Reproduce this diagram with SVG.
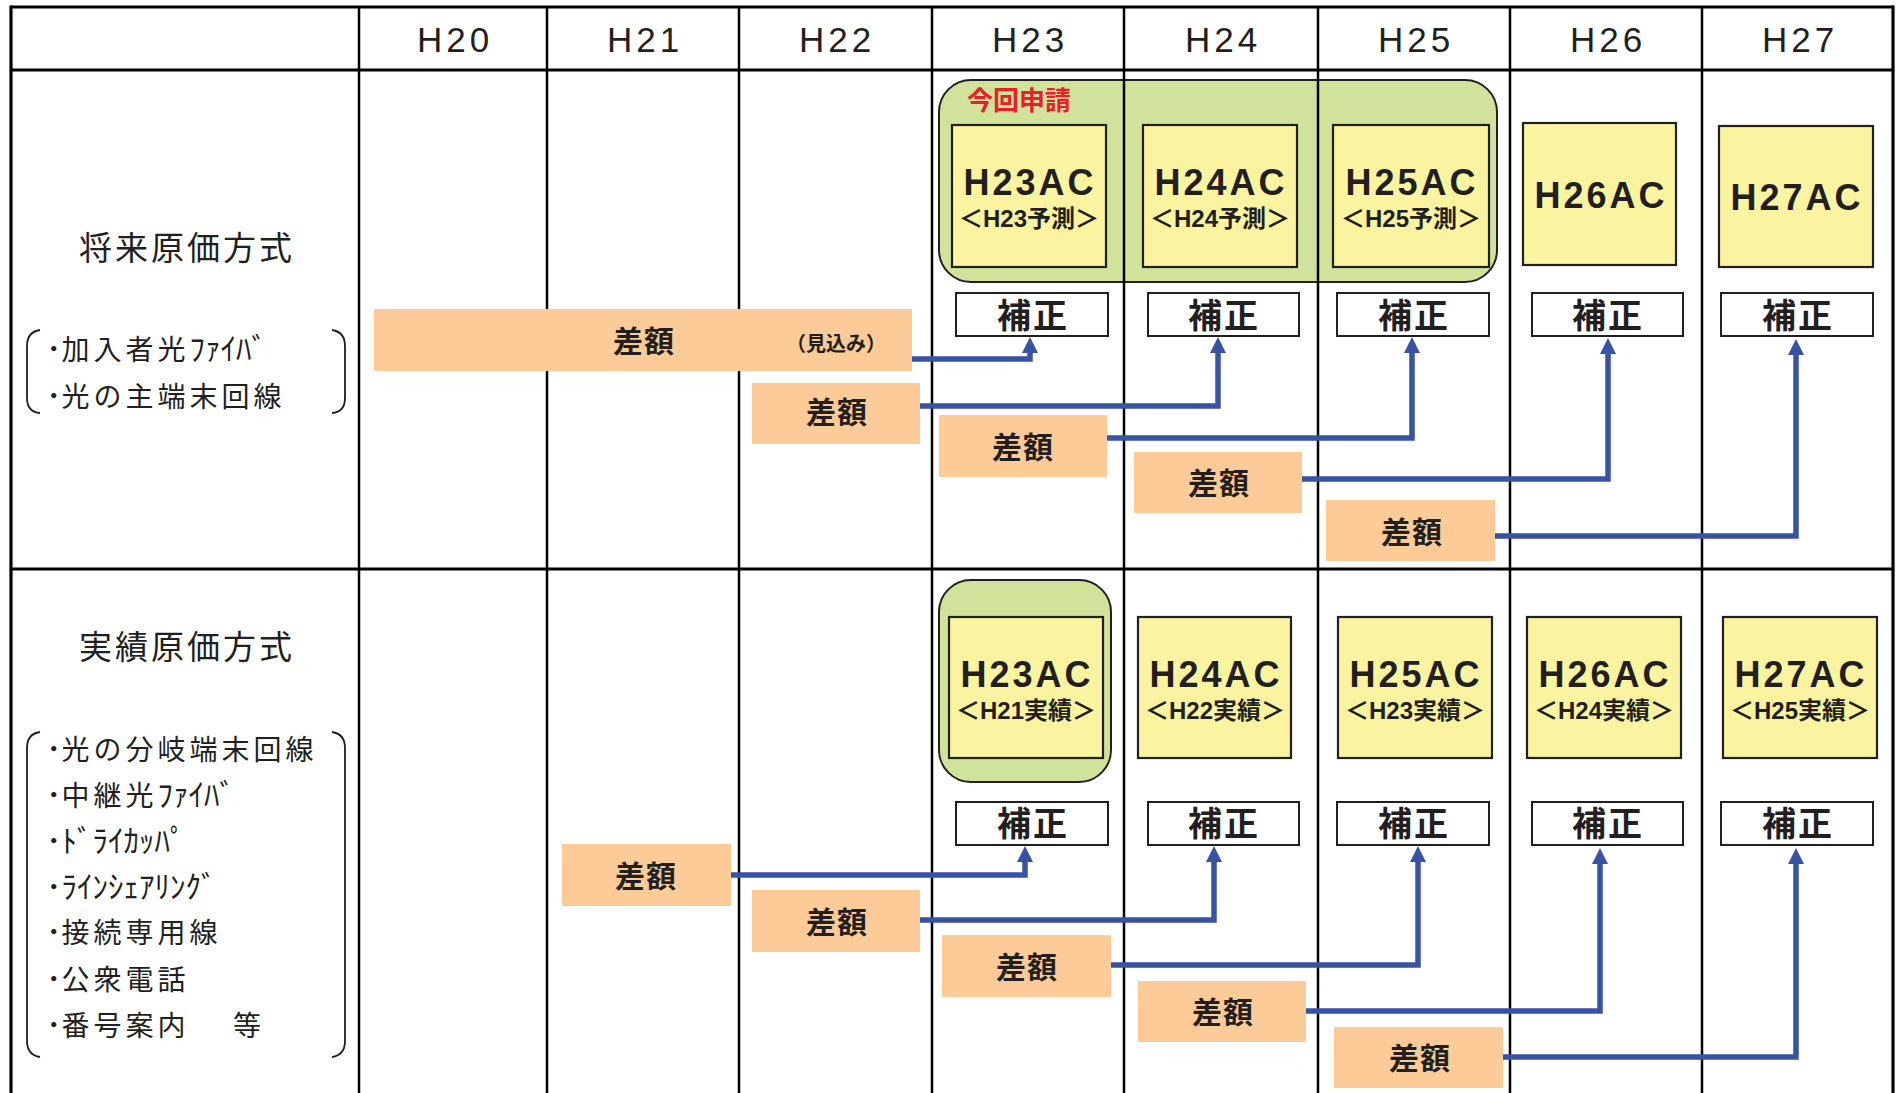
<svg xmlns="http://www.w3.org/2000/svg" width="1897" height="1093" viewBox="0 0 1897 1093">
<defs>
<style>
.grid{stroke:#000;stroke-width:2.5;fill:none}
.thick{stroke:#000;stroke-width:3.2;fill:none}
.hdr{font-family:"Liberation Sans",Arial,sans-serif;font-size:35px;letter-spacing:4px;fill:#231f20;text-anchor:middle}
.lbl{font-family:"Noto Sans CJK JP",sans-serif;font-size:33px;letter-spacing:3px;fill:#231f20;text-anchor:middle}
.item{font-family:"Noto Sans CJK JP",sans-serif;font-size:28px;letter-spacing:4px;fill:#231f20}
.hk{letter-spacing:0;font-size:31px}
.brk{stroke:#231f20;stroke-width:1.8;fill:none}
.grp{fill:#d1e29b;stroke:#231f20;stroke-width:2}
.ac{fill:#faf3a0;stroke:#231f20;stroke-width:2.2}
.act{font-family:"Liberation Sans",Arial,sans-serif;font-weight:bold;font-size:36px;letter-spacing:3px;fill:#231f20;text-anchor:middle}
.sub{font-family:"Liberation Sans","Noto Sans CJK JP",sans-serif;font-weight:bold;font-size:24px;fill:#231f20;text-anchor:middle}
.hos{fill:#fff;stroke:#231f20;stroke-width:2}
.host{font-family:"Noto Sans CJK JP",sans-serif;font-weight:bold;font-size:34px;letter-spacing:2px;fill:#231f20;text-anchor:middle}
.sa{fill:#fdcb97}
.sat{font-family:"Noto Sans CJK JP",sans-serif;font-weight:bold;font-size:30px;letter-spacing:1px;fill:#231f20;text-anchor:middle}
.red{font-family:"Noto Sans CJK JP",sans-serif;font-weight:bold;font-size:26px;fill:#e8202a}
.conn{stroke:#3953a4;stroke-width:5.5;fill:none;stroke-linejoin:miter}
</style>
<marker id="ah" viewBox="0 0 16 16" refX="2" refY="8" markerWidth="16" markerHeight="16" markerUnits="userSpaceOnUse" orient="auto">
<path d="M0,0 L16,8 L0,16 Z" fill="#3953a4"/>
</marker>
</defs>
<rect x="0" y="0" width="1897" height="1093" fill="#fff"/>

<!-- group highlight backgrounds -->
<g id="group-konkai">
<rect class="grp" x="939" y="80" width="558" height="202" rx="32" ry="32"/>
<text class="red" x="967" y="110">今回申請</text>
</g>
<g id="group-h23-actual">
<rect class="grp" x="939" y="580" width="172" height="202" rx="32" ry="32"/>
</g>

<!-- grid -->
<g id="grid">
<line class="thick" x1="11" y1="7" x2="1894" y2="7"/>
<line class="thick" x1="11" y1="5.5" x2="11" y2="1093"/>
<line class="thick" x1="1893" y1="5.5" x2="1893" y2="1093"/>
<line class="thick" x1="11" y1="70" x2="1894" y2="70"/>
<line class="thick" x1="11" y1="569" x2="1894" y2="569"/>
<line class="grid" x1="359" y1="7" x2="359" y2="1093"/>
<line class="grid" x1="547" y1="7" x2="547" y2="1093"/>
<line class="grid" x1="739" y1="7" x2="739" y2="1093"/>
<line class="grid" x1="932" y1="7" x2="932" y2="1093"/>
<line class="grid" x1="1124" y1="7" x2="1124" y2="1093"/>
<line class="grid" x1="1318" y1="7" x2="1318" y2="1093"/>
<line class="grid" x1="1510" y1="7" x2="1510" y2="1093"/>
<line class="grid" x1="1702" y1="7" x2="1702" y2="1093"/>
</g>

<g id="header">
<text class="hdr" x="455" y="52">H20</text>
<text class="hdr" x="645" y="52">H21</text>
<text class="hdr" x="837" y="52">H22</text>
<text class="hdr" x="1030" y="52">H23</text>
<text class="hdr" x="1223" y="52">H24</text>
<text class="hdr" x="1416" y="52">H25</text>
<text class="hdr" x="1608" y="52">H26</text>
<text class="hdr" x="1800" y="52">H27</text>
</g>

<g id="label-future">
<text class="lbl" x="187" y="260">将来原価方式</text>
<path class="brk" d="M40,330 Q27,332 27,346 L27,398 Q27,412 40,413"/>
<path class="brk" d="M332,330 Q345,332 345,346 L345,398 Q345,412 332,413"/>
<text class="item" x="46" y="360"><tspan class="hk">･</tspan>加入者光<tspan class="hk">ﾌｧｲﾊﾞ</tspan></text>
<text class="item" x="46" y="407"><tspan class="hk">･</tspan>光の主端末回線</text>
</g>

<g id="label-actual">
<text class="lbl" x="187" y="659">実績原価方式</text>
<path class="brk" d="M40,732 Q27,734 27,748 L27,1041 Q27,1055 40,1057"/>
<path class="brk" d="M332,732 Q345,734 345,748 L345,1041 Q345,1055 332,1057"/>
<text class="item" x="46" y="760"><tspan class="hk">･</tspan>光の分岐端末回線</text>
<text class="item" x="46" y="806"><tspan class="hk">･</tspan>中継光<tspan class="hk">ﾌｧｲﾊﾞ</tspan></text>
<text class="item" x="46" y="852"><tspan class="hk">･ﾄﾞﾗｲｶｯﾊﾟ</tspan></text>
<text class="item" x="46" y="898"><tspan class="hk">･ﾗｲﾝｼｪｱﾘﾝｸﾞ</tspan></text>
<text class="item" x="46" y="943"><tspan class="hk">･</tspan>接続専用線</text>
<text class="item" x="46" y="990"><tspan class="hk">･</tspan>公衆電話</text>
<text class="item" x="46" y="1036"><tspan class="hk">･</tspan>番号案内<tspan x="233">等</tspan></text>
</g>

<!-- future cost AC boxes -->
<g id="f-h23ac"><rect class="ac" x="952" y="125" width="154" height="142"/><text class="act" x="1030" y="195">H23AC</text><text class="sub" x="1029" y="227">＜H23予測＞</text></g>
<g id="f-h24ac"><rect class="ac" x="1143" y="125" width="154" height="142"/><text class="act" x="1221" y="195">H24AC</text><text class="sub" x="1220" y="227">＜H24予測＞</text></g>
<g id="f-h25ac"><rect class="ac" x="1333" y="125" width="156" height="142"/><text class="act" x="1412" y="195">H25AC</text><text class="sub" x="1411" y="227">＜H25予測＞</text></g>
<g id="f-h26ac"><rect class="ac" x="1523" y="123" width="153" height="142"/><text class="act" x="1601" y="208">H26AC</text></g>
<g id="f-h27ac"><rect class="ac" x="1719" y="126" width="154" height="141"/><text class="act" x="1797" y="210">H27AC</text></g>

<!-- actual cost AC boxes -->
<g id="a-h23ac"><rect class="ac" x="949" y="617" width="154" height="141"/><text class="act" x="1027" y="687">H23AC</text><text class="sub" x="1026" y="719">＜H21実績＞</text></g>
<g id="a-h24ac"><rect class="ac" x="1138" y="617" width="153" height="141"/><text class="act" x="1216" y="687">H24AC</text><text class="sub" x="1215" y="719">＜H22実績＞</text></g>
<g id="a-h25ac"><rect class="ac" x="1338" y="617" width="154" height="141"/><text class="act" x="1416" y="687">H25AC</text><text class="sub" x="1415" y="719">＜H23実績＞</text></g>
<g id="a-h26ac"><rect class="ac" x="1527" y="617" width="154" height="141"/><text class="act" x="1605" y="687">H26AC</text><text class="sub" x="1604" y="719">＜H24実績＞</text></g>
<g id="a-h27ac"><rect class="ac" x="1723" y="617" width="154" height="141"/><text class="act" x="1801" y="687">H27AC</text><text class="sub" x="1800" y="719">＜H25実績＞</text></g>

<!-- correction boxes -->
<g id="f-hosei-h23"><rect class="hos" x="956" y="293" width="152" height="43"/><text class="host" x="1033" y="328">補正</text></g>
<g id="f-hosei-h24"><rect class="hos" x="1148" y="293" width="151" height="43"/><text class="host" x="1224" y="328">補正</text></g>
<g id="f-hosei-h25"><rect class="hos" x="1337" y="293" width="152" height="43"/><text class="host" x="1414" y="328">補正</text></g>
<g id="f-hosei-h26"><rect class="hos" x="1532" y="293" width="151" height="43"/><text class="host" x="1608" y="328">補正</text></g>
<g id="f-hosei-h27"><rect class="hos" x="1721" y="293" width="152" height="43"/><text class="host" x="1798" y="328">補正</text></g>
<g id="a-hosei-h23"><rect class="hos" x="956" y="802" width="152" height="43"/><text class="host" x="1033" y="836">補正</text></g>
<g id="a-hosei-h24"><rect class="hos" x="1148" y="802" width="151" height="43"/><text class="host" x="1224" y="836">補正</text></g>
<g id="a-hosei-h25"><rect class="hos" x="1337" y="802" width="152" height="43"/><text class="host" x="1414" y="836">補正</text></g>
<g id="a-hosei-h26"><rect class="hos" x="1532" y="802" width="151" height="43"/><text class="host" x="1608" y="836">補正</text></g>
<g id="a-hosei-h27"><rect class="hos" x="1721" y="802" width="152" height="43"/><text class="host" x="1798" y="836">補正</text></g>

<!-- difference boxes -->
<g id="f-sa-h20"><rect class="sa" x="374" y="309" width="538" height="62"/><text class="sat" x="644" y="352">差額</text><text class="sat" x="836" y="351" style="font-size:20px;letter-spacing:0">（見込み）</text></g>
<g id="f-sa-h22"><rect class="sa" x="752" y="383" width="168" height="61"/><text class="sat" x="837" y="423">差額</text></g>
<g id="f-sa-h23"><rect class="sa" x="939" y="415" width="168" height="62"/><text class="sat" x="1023" y="458">差額</text></g>
<g id="f-sa-h24"><rect class="sa" x="1134" y="452" width="168" height="61"/><text class="sat" x="1219" y="494">差額</text></g>
<g id="f-sa-h25"><rect class="sa" x="1326" y="500" width="169" height="61"/><text class="sat" x="1412" y="543">差額</text></g>

<g id="a-sa-h21"><rect class="sa" x="562" y="844" width="169" height="62"/><text class="sat" x="646" y="887">差額</text></g>
<g id="a-sa-h22"><rect class="sa" x="752" y="890" width="168" height="62"/><text class="sat" x="837" y="933">差額</text></g>
<g id="a-sa-h23"><rect class="sa" x="942" y="935" width="169" height="62"/><text class="sat" x="1027" y="978">差額</text></g>
<g id="a-sa-h24"><rect class="sa" x="1138" y="981" width="168" height="61"/><text class="sat" x="1223" y="1023">差額</text></g>
<g id="a-sa-h25"><rect class="sa" x="1334" y="1027" width="169" height="61"/><text class="sat" x="1420" y="1069">差額</text></g>

<!-- connectors -->
<g id="connectors">
<polyline class="conn" marker-end="url(#ah)" points="912,359 1030,359 1030,351"/>
<polyline class="conn" marker-end="url(#ah)" points="920,406 1218,406 1218,351"/>
<polyline class="conn" marker-end="url(#ah)" points="1107,438 1412,438 1412,351"/>
<polyline class="conn" marker-end="url(#ah)" points="1302,479 1608,479 1608,352"/>
<polyline class="conn" marker-end="url(#ah)" points="1495,536 1796,536 1796,353"/>
<polyline class="conn" marker-end="url(#ah)" points="731,875 1025,875 1025,860"/>
<polyline class="conn" marker-end="url(#ah)" points="920,920 1214,920 1214,860"/>
<polyline class="conn" marker-end="url(#ah)" points="1111,965 1418,965 1418,860"/>
<polyline class="conn" marker-end="url(#ah)" points="1306,1011 1600,1011 1600,862"/>
<polyline class="conn" marker-end="url(#ah)" points="1503,1057 1796,1057 1796,862"/>
</g>
</svg>
